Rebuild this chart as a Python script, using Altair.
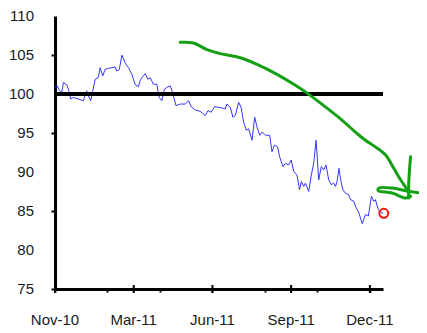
import altair as alt
import pandas as pd

# Blue series: x in month-tick units from the first tick (Nov-10 = 0), y = index value
t = [0.00, 0.09, 0.16, 0.26, 0.32, 0.45, 0.51, 0.60, 0.70, 0.89, 1.08, 1.21, 1.27, 1.36, 1.44,
     1.53, 1.65, 1.72, 1.82, 1.91, 2.03, 2.16, 2.29, 2.35, 2.45, 2.55, 2.67, 2.80, 2.93, 3.05,
     3.18, 3.24, 3.31, 3.44, 3.54, 3.63, 3.75, 3.88, 3.97, 4.07, 4.17, 4.26, 4.39, 4.48, 4.61,
     4.77, 4.96, 5.09, 5.19, 5.34, 5.53, 5.73, 5.83, 5.95, 6.08, 6.22, 6.36, 6.49, 6.55, 6.68,
     6.78, 6.87, 7.00, 7.09, 7.19, 7.29, 7.38, 7.51, 7.61, 7.70, 7.80, 7.89, 8.02, 8.18, 8.27,
     8.36, 8.48, 8.56, 8.69, 8.78, 8.90, 9.00, 9.10, 9.22, 9.32, 9.39, 9.48, 9.54, 9.67, 9.77,
     9.86, 9.95, 10.05, 10.15, 10.24, 10.33, 10.43, 10.53, 10.62, 10.69, 10.75, 10.82, 10.90,
     10.97, 11.07, 11.19, 11.26, 11.39, 11.45, 11.58, 11.71, 11.83, 11.94, 12.06, 12.15, 12.21,
     12.32, 12.40, 12.49]
v = [100.92, 101.05, 100.49, 100.20, 101.47, 101.17, 100.62, 99.35, 99.56, 99.35, 99.14, 100.41,
     99.78, 99.14, 100.41, 101.88, 102.10, 103.37, 102.32, 103.15, 103.28, 103.37, 103.46, 102.95,
     103.15, 104.98, 104.00, 103.37, 102.52, 101.25, 100.92, 101.68, 102.10, 102.61, 101.88,
     102.10, 101.25, 101.25, 99.56, 99.14, 100.62, 100.83, 101.05, 100.20, 98.51, 98.71, 98.71,
     99.14, 98.38, 97.95, 97.79, 97.24, 97.88, 97.66, 98.38, 98.30, 98.21, 98.08, 98.71, 98.30,
     97.03, 97.24, 98.93, 98.30, 96.39, 95.34, 95.54, 94.07, 97.03, 95.76, 94.71, 95.13, 94.71,
     94.71, 92.59, 93.44, 93.22, 91.95, 90.69, 91.11, 90.90, 91.54, 90.05, 89.63, 87.73, 88.78,
     88.15, 88.57, 87.52, 89.63, 91.11, 94.07, 89.00, 90.69, 90.27, 90.90, 89.00, 88.37, 88.57,
     88.15, 88.78, 90.47, 88.78, 87.73, 87.28, 87.10, 86.46, 86.25, 85.61, 84.76, 83.37, 84.56,
     84.35, 86.88, 86.25, 86.46, 85.20, 84.85, 84.69]

# Hand-drawn green arrow annotation (three strokes)
arrow_stroke = [0] * 19 + [1] * 4 + [2] * 8
arrow_t = [4.77, 5.28, 5.79, 6.30, 7.06, 7.70, 8.46, 9.10, 9.61, 10.24, 10.88, 11.52, 11.83,
           12.21, 12.60, 12.91, 13.17, 13.42, 13.49,
           13.55, 13.51, 13.48, 13.48,
           13.93, 13.48, 12.85, 12.34, 12.32, 12.85, 13.36, 13.55]
arrow_v = [106.63, 106.54, 105.69, 105.18, 104.64, 103.79, 102.52, 101.25, 100.11, 98.51, 96.81,
           94.91, 94.07, 93.22, 92.17, 90.47, 89.00, 87.73, 87.10,
           91.95, 90.27, 88.57, 86.67,
           87.30, 87.52, 87.94, 87.94, 87.61, 87.30, 86.67, 86.88]

# Red circle marking the last value
circle_t = [12.53]
circle_v = [84.7]

# Axis ticks and labels
month_ticks = list(range(13))
major_ticks = [0, 3, 6, 9, 12]
major_labels = ["Nov-10", "Mar-11", "Jun-11", "Sep-11", "Dec-11"]
y_ticks = [75, 80, 85, 90, 95, 100, 105, 110]
y_labels = [str(y) for y in y_ticks]
ref_level = 100

W, H = 328, 273
FONT = "Liberation Sans"
LABEL_COLOR = "#1a1a1a"

series = pd.DataFrame({"t": t, "v": v})
arrow = pd.DataFrame({"t": arrow_t, "v": arrow_v, "s": arrow_stroke,
                      "o": list(range(len(arrow_t)))})
circle = pd.DataFrame({"t": circle_t, "v": circle_v})
majors = pd.DataFrame({"t": major_ticks, "lab": major_labels})
ylabs = pd.DataFrame({"v": y_ticks, "lab": y_labels})

xscale = alt.Scale(domain=[0, 12.5], nice=False, zero=False)
yscale = alt.Scale(domain=[75, 110], nice=False, zero=False)

line = alt.Chart(series).mark_line(color="#3535ff", strokeWidth=1).encode(
    x=alt.X("t:Q", scale=xscale, title=None,
            axis=alt.Axis(values=month_ticks, labels=False, grid=False, tickSize=3,
                          tickWidth=2, tickColor="black", domainColor="black",
                          domainWidth=3)),
    y=alt.Y("v:Q", scale=yscale, title=None,
            axis=alt.Axis(values=y_ticks, labels=False, grid=False, tickSize=4,
                          tickWidth=2, tickColor="black", domainColor="black",
                          domainWidth=3)),
)

ref = alt.Chart(series).mark_rule(color="black", strokeWidth=2.5).encode(
    y=alt.datum(ref_level)
)

major_marks = alt.Chart(majors).mark_rule(color="black", strokeWidth=2).encode(
    x=alt.X("t:Q"), y=alt.value(H - 4), y2=alt.value(H + 4)
)

x_text = alt.Chart(majors).mark_text(font=FONT, fontSize=15, color=LABEL_COLOR,
                                     baseline="middle", align="center").encode(
    x="t:Q", y=alt.value(H + 31), text="lab:N"
)

y_text = alt.Chart(ylabs).mark_text(font=FONT, fontSize=15, color=LABEL_COLOR,
                                    baseline="middle", align="right").encode(
    x=alt.value(-21), y="v:Q", text="lab:N"
)

green = alt.Chart(arrow).mark_line(color="#14a014", strokeWidth=3, clip=False,
                                   strokeCap="round", strokeJoin="round",
                                   interpolate="catmull-rom").encode(
    x="t:Q", y="v:Q", detail="s:N", order="o:Q"
)

red = alt.Chart(circle).mark_point(shape="circle", filled=False, color="#ff1010",
                                   size=80, strokeWidth=2, opacity=1).encode(
    x="t:Q", y="v:Q"
)

chart = alt.layer(line, ref, major_marks, x_text, y_text, green, red).properties(
    width=W, height=H,
    autosize=alt.AutoSizeParams(type="none"),
    padding={"left": 47, "top": 8, "right": 36, "bottom": 39},
).configure_view(stroke=None)

chart.save("out.html", embed_options={"renderer": "svg", "actions": False})
